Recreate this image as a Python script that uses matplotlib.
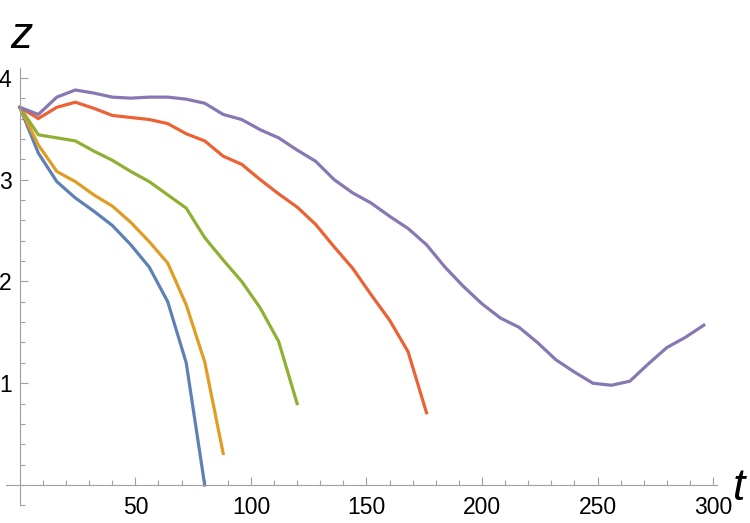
import numpy as np
import matplotlib
matplotlib.use("Agg")
import matplotlib.pyplot as plt
from matplotlib.ticker import MultipleLocator

plt.rcParams['font.family'] = ['Liberation Sans', 'DejaVu Sans']

# time step of 8 for every series
t_step = 8
z_blue = [3.71, 3.26, 2.98, 2.82, 2.69, 2.55, 2.36, 2.14, 1.80, 1.20, 0.0]
z_orange = [3.71, 3.34, 3.08, 2.98, 2.85, 2.74, 2.58, 2.39, 2.18, 1.77, 1.21, 0.31]
z_green = [3.71, 3.44, 3.41, 3.38, 3.28, 3.19, 3.08, 2.98, 2.85, 2.72, 2.43,
           2.21, 2.00, 1.74, 1.41, 0.80]
z_red = [3.71, 3.60, 3.71, 3.76, 3.70, 3.63, 3.61, 3.59, 3.55, 3.45, 3.38,
         3.23, 3.15, 3.00, 2.86, 2.73, 2.56, 2.34, 2.13, 1.87, 1.62, 1.31, 0.71]
z_purple = [3.71, 3.64, 3.81, 3.88, 3.85, 3.81, 3.80, 3.81, 3.81, 3.79, 3.75,
            3.64, 3.59, 3.49, 3.41, 3.29, 3.18, 3.00, 2.87, 2.77, 2.64, 2.52,
            2.36, 2.14, 1.95, 1.78, 1.64, 1.55, 1.40, 1.23, 1.11, 1.00, 0.98,
            1.02, 1.19, 1.35, 1.45, 1.57]

series = [z_blue, z_orange, z_green, z_red, z_purple]
colors = ['#5E81B5', '#E19C24', '#8FB032', '#EB6235', '#8778B3']

W, H = 750, 523
fig = plt.figure(figsize=(W / 100, H / 100), dpi=100)
# axes box in pixels: left 6, right 716.5, top 67.6, bottom 505.4
ax = fig.add_axes([6 / W, 1 - 505.4 / H, (716.5 - 6) / W, (505.4 - 67.6) / H])

for z, c in zip(series, colors):
    t = np.arange(len(z)) * t_step
    ax.plot(t, z, color=c, lw=2.3, solid_joinstyle='miter', clip_on=False)

ax.set_xlim(-6, 301.5)
ax.set_ylim(-0.2, 4.1)

for s in ['top', 'right']:
    ax.spines[s].set_visible(False)
for s in ['left', 'bottom']:
    ax.spines[s].set_position(('data', 0))
    ax.spines[s].set_color('#a0a0a0')
    ax.spines[s].set_linewidth(0.8)

ax.set_xticks([50, 100, 150, 200, 250, 300])
ax.set_yticks([1, 2, 3, 4])
ax.xaxis.set_minor_locator(MultipleLocator(10))
ax.yaxis.set_minor_locator(MultipleLocator(0.2))
ax.tick_params(which='both', direction='in', color='#a0a0a0', width=0.8,
               labelsize=16.5, labelcolor='black')
ax.tick_params(which='major', length=5.5, pad=8)
ax.tick_params(which='minor', length=3.5)
ax.tick_params(axis='y', pad=6)

fig.text(10 / W, 1 - 48 / H, 'z', fontsize=32, style='italic', ha='left', va='baseline')
fig.text(733 / W, 1 - 500 / H, 't', fontsize=32, style='italic', ha='left', va='baseline')

fig.savefig('out.png', dpi=100)
